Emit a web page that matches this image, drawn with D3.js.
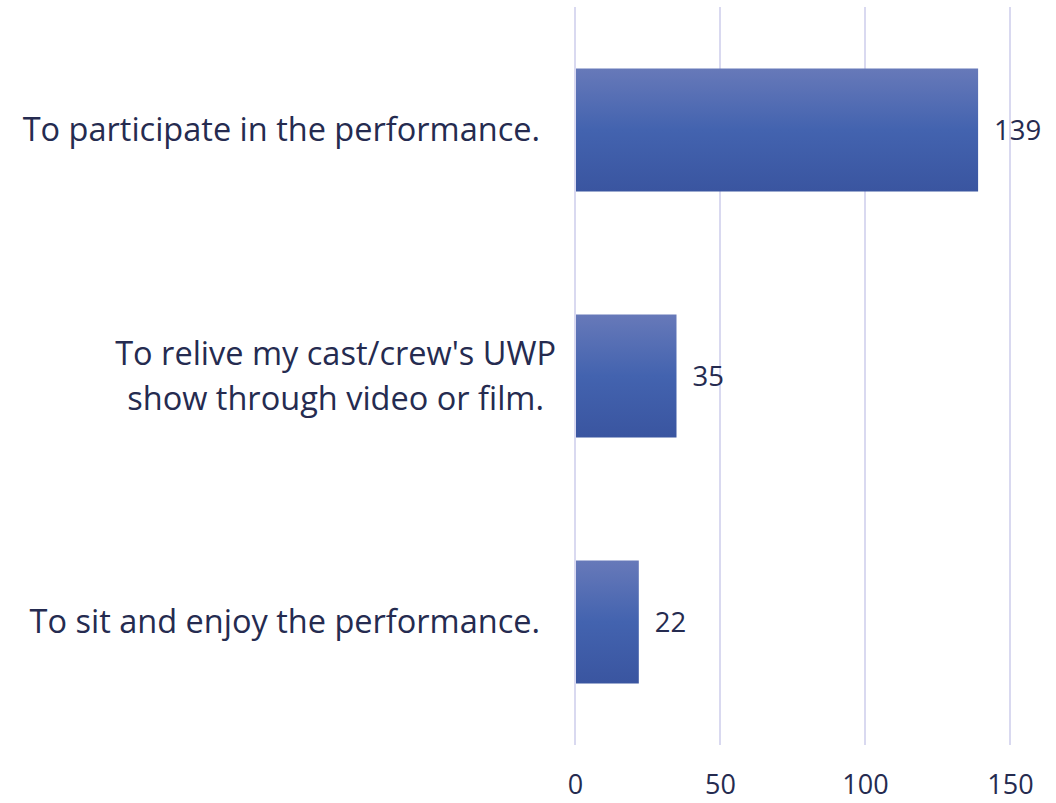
<!doctype html>
<html>
<head>
  <script src="https://d3js.org/d3.v7.min.js"></script>
  <style>
    body { margin:0; background:#fff; }
    text { font-family: "Open Sans", sans-serif; fill:#252b50; }
  </style>
</head>
<body>
  <script>
    // categories top to bottom, with their counts
    var categories = [
      ["To participate in the performance."],
      ["To relive my cast/crew's UWP", "show through video or film."],
      ["To sit and enjoy the performance."]
    ];
    var counts = [139, 35, 22];
    var ticks = [0, 50, 100, 150];

    var width = 1056, height = 803;
    var margin = {top: 7, right: 46, bottom: 58, left: 575};

    var svg = d3.select("body").append("svg")
      .attr("width", width)
      .attr("height", height);

    // gradient for the bars
    var grad = svg.append("defs").append("linearGradient")
      .attr("id", "barGrad")
      .attr("x1", 0).attr("y1", 0).attr("x2", 0).attr("y2", 1);
    grad.append("stop").attr("offset", "0%").attr("stop-color", "#6779b9");
    grad.append("stop").attr("offset", "50%").attr("stop-color", "#4363af");
    grad.append("stop").attr("offset", "100%").attr("stop-color", "#3a55a0");

    var xScale = d3.scaleLinear()
      .domain([0, 150])
      .range([margin.left, width - margin.right]);

    var yScale = d3.scaleBand()
      .domain(d3.range(categories.length))
      .range([margin.top, height - margin.bottom])
      .paddingInner(0.5)
      .paddingOuter(0.25);

    // gridlines
    svg.append("g")
      .selectAll("line")
      .data(ticks)
      .enter()
      .append("line")
      .attr("x1", function(d){ return xScale(d); })
      .attr("x2", function(d){ return xScale(d); })
      .attr("y1", margin.top)
      .attr("y2", height - margin.bottom)
      .attr("stroke", "#d9d9f0")
      .attr("stroke-width", 2);

    // bars
    svg.append("g")
      .selectAll("rect")
      .data(counts)
      .enter()
      .append("rect")
      .attr("x", xScale(0) + 1)
      .attr("y", function(d, i){ return yScale(i); })
      .attr("width", function(d){ return xScale(d) - xScale(0) - 1; })
      .attr("height", yScale.bandwidth())
      .attr("fill", "url(#barGrad)");

    // value labels
    svg.append("g")
      .selectAll("text")
      .data(counts)
      .enter()
      .append("text")
      .attr("x", function(d){ return xScale(d) + 16; })
      .attr("y", function(d, i){ return yScale(i) + yScale.bandwidth() / 2; })
      .attr("dy", "0.35em")
      .style("font-size", "27.5px")
      .text(function(d){ return d; });

    // bottom axis tick labels
    var bottomAxis = d3.axisBottom(xScale).tickValues(ticks).tickSize(0).tickPadding(30);
    var xAxis = svg.append("g")
      .attr("transform", "translate(0," + (height - margin.bottom) + ")")
      .call(bottomAxis);
    xAxis.select(".domain").remove();
    xAxis.selectAll("text")
      .style("font-size", "27px")
      .style("font-family", "'Open Sans', sans-serif")
      .attr("fill", "#252b50");

    // category labels, wrapped lines centred on each other
    var lineGap = 45;
    svg.append("g")
      .selectAll("text")
      .data(categories)
      .enter()
      .append("text")
      .style("font-size", "32.5px")
      .each(function(lines, i){
        var t = d3.select(this);
        var cy = yScale(i) + yScale.bandwidth() / 2;
        var spans = t.selectAll("tspan")
          .data(lines)
          .enter()
          .append("tspan")
          .attr("y", function(d, j){ return cy + (j - (lines.length - 1) / 2) * lineGap; })
          .attr("dy", "0.35em")
          .text(function(d){ return d; });
        if (lines.length === 1) {
          spans.attr("x", margin.left - 35).attr("text-anchor", "end");
        } else {
          var w = 0;
          spans.each(function(){ w = Math.max(w, this.getComputedTextLength()); });
          spans.attr("x", margin.left - 19 - w / 2).attr("text-anchor", "middle");
        }
      });
  </script>
</body>
</html>
